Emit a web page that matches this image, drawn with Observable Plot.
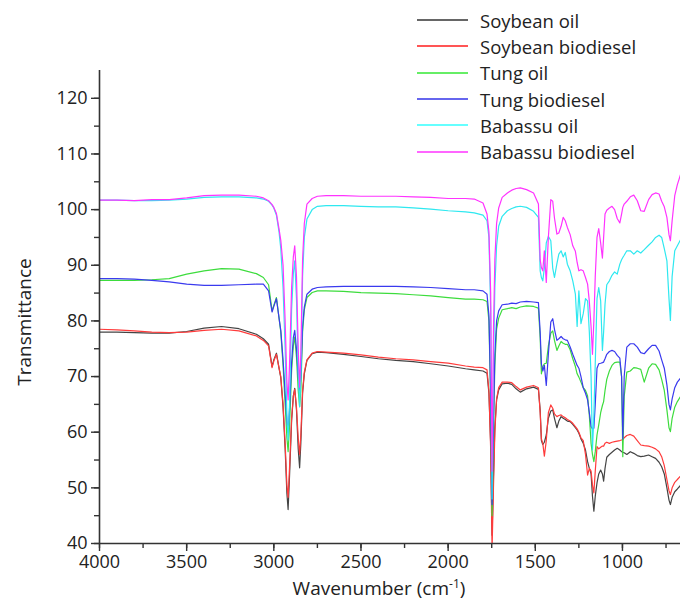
<!DOCTYPE html>
<html>
<head>
<meta charset="utf-8">
<script src="https://cdn.jsdelivr.net/npm/d3@7"></script>
<script src="https://cdn.jsdelivr.net/npm/@observablehq/plot@0.6"></script>
<style>
  html, body { margin: 0; padding: 0; background: #fff; }
  #wrap { position: relative; width: 680px; height: 608px; font-family: "Open Sans", sans-serif; color: #222; }
  #legend { position: absolute; left: 417px; top: 7px; font-size: 18.5px; }
  #legend .row { display: flex; align-items: center; height: 26.3px; }
  #legend .sw { width: 51px; height: 2px; margin-right: 12px; }
  .axlab { position: absolute; font-size: 19px; color: #222; white-space: nowrap; line-height: 24px; }
</style>
</head>
<body>
<div id="wrap">
  <div id="chart"></div>
  <div id="legend"></div>
  <div class="axlab" id="xlab" style="left:0; top:576px; width:758px; text-align:center;">Wavenumber (cm<sup style="font-size:12px; line-height:0;">-1</sup>)</div>
  <div class="axlab" id="ylab" style="left:24px; top:322px; transform: translate(-50%,-50%) rotate(-90deg);">Transmittance</div>
</div>
<script>
// Wavenumbers (cm-1)
const wavenumbers = [4000,3900,3800,3700,3600,3500,3400,3300,3200,3100,3060,3030,3010,3000,2985,2970,2960,2947,2935,2925,2918,2910,2898,2888,2880,2870,2860,2852,2845,2835,2825,2810,2780,2750,2700,2600,2500,2400,2300,2200,2100,2000,1900,1850,1800,1777,1766,1756,1748,1740,1732,1722,1710,1690,1660,1635,1610,1586,1550,1510,1482,1472,1465,1457,1448,1437,1425,1411,1400,1390,1376,1365,1352,1340,1328,1316,1300,1285,1270,1260,1250,1238,1225,1212,1200,1190,1180,1172,1164,1156,1146,1136,1125,1115,1108,1100,1090,1075,1060,1045,1030,1015,1005,998,990,975,955,935,915,895,875,850,830,810,790,775,760,745,733,725,715,700,685,665];

const soybeanOil = [78.0,78.0,77.9,77.8,77.8,78.1,78.7,79.0,78.6,77.6,76.8,75.8,71.8,73.0,74.2,71.5,69.8,64.5,57,49,46.1,52,62,66.5,67.9,64,57,53.6,58,67,70.5,72.9,74.1,74.4,74.3,74.0,73.6,73.2,72.9,72.7,72.3,71.9,71.4,71.2,71.0,70.6,67,58,41.5,52,61,65.8,67.6,68.7,68.8,68.6,67.8,67.2,67.8,68.1,67.7,64,58.5,57.8,58.2,59.5,62.5,63.8,64.0,62.5,60.8,62.0,62.8,62.5,62.3,62.0,61.9,61.4,60.8,60.4,59.8,58.8,58.0,56.8,54.7,53.5,52.5,48.5,45.8,48.5,50.9,52.5,53.2,52.5,51.2,53.5,55.5,56.0,56.4,56.8,57.1,56.8,56.5,56.4,56.3,56.0,56.5,56.2,55.8,55.6,55.7,55.9,55.6,55.3,54.6,53.8,52.5,50.0,47.8,47.0,48.3,49.3,49.8,50.5];

const soybeanBiodiesel = [78.5,78.4,78.2,78.0,77.9,78.0,78.3,78.5,78.2,77.3,76.5,75.5,71.6,72.8,74.0,71.5,70,65,58,50.5,48.3,53.5,62.5,66.5,67.7,64.5,59,56.0,59.5,67.5,70.8,73.0,74.2,74.5,74.4,74.2,73.9,73.5,73.2,73.0,72.7,72.4,71.9,71.7,71.6,71.2,67.5,57,39.0,50,60,66.0,68.0,69.0,69.0,68.9,68.2,67.6,68.1,68.4,68.0,63.5,58.8,58.0,55.7,58.5,63.5,64.9,64.3,63.3,62.8,63.0,63.1,62.8,62.6,62.3,62.0,61.6,61.0,60.6,60.0,59.0,58.5,56.0,52.3,53.5,53.0,50.5,49.1,53,57.4,57.0,57.3,57.5,57.5,58.0,58.2,58.0,58.2,58.3,58.4,58.5,58.6,58.7,59.0,59.4,59.6,59.3,58.5,57.7,57.6,57.5,57.3,57.0,56.5,55.6,54.0,51.5,49.5,48.8,50.0,51.0,51.5,52.2];

const tungOil = [87.3,87.3,87.3,87.4,87.6,88.4,89.0,89.4,89.3,88.5,87.8,86.5,81.8,82.8,84.2,80.5,78,72,65,59,56.5,61,71,75.5,77.1,73.5,67.5,64.6,67.5,78,82,84.2,85.1,85.4,85.4,85.3,85.1,85.0,84.9,84.7,84.5,84.2,83.9,83.9,83.8,83.5,80,66,45.0,60,72,78.5,80.5,82.0,82.2,82.4,82.2,82.5,82.7,82.6,82.3,77,70.5,71.8,72.3,72.4,75.5,77.8,78.2,76.5,74.7,75.5,76.3,76.0,75.8,75.8,74.8,73.2,71.8,70.5,69.9,69.0,68.0,67.5,66.5,63,58,56.0,54.7,56.5,59.5,61.3,63.5,64.8,65.5,67.5,69.5,71.0,72.0,72.5,72.6,72.6,70,55.6,66.4,70.8,71.0,71.6,71.5,71.3,69.0,71.5,72.3,72.2,71.2,69.5,67.5,64,60.8,60.1,62.5,64.5,65.5,66.5];

const tungBiodiesel = [87.6,87.6,87.5,87.3,87.0,86.6,86.4,86.4,86.5,86.6,86.6,85.4,81.6,82.6,84.0,80.5,78.3,73,67,62,60.0,64,72.5,77,78.3,75,70,67.0,70,79,82.5,84.8,85.7,86.0,86.1,86.2,86.2,86.2,86.2,86.1,86.0,85.8,85.6,85.6,85.4,84.8,81,67,47.0,62,74,80,81.8,82.9,83.0,83.2,83.1,83.4,83.5,83.4,83.3,78,72.3,71.0,72,68.4,74,79.8,80.4,78.5,76.5,76.8,77.2,76.8,76.6,76.5,75.3,74.0,72.8,72.0,71.5,70.0,68.0,67.0,65.8,63.5,61.0,60.6,60.7,65,71.5,72.3,72.4,72.5,72.6,73.2,74.0,74.5,74.7,74.5,73.8,73.3,70,58.8,70,75.3,75.9,75.9,75.3,74.3,74.1,75.0,75.6,75.6,74.6,73.0,71.5,68.5,65,64.0,66,68.0,69.0,69.8];

const babassuOil = [101.7,101.7,101.6,101.6,101.7,101.9,102.2,102.3,102.3,102.1,101.9,101.5,100.8,100.3,99.0,96.0,93.0,86,75,63,58.6,65,82,88.5,90.8,84,71,64.6,70,88,95,98.3,100.0,100.6,100.7,100.7,100.6,100.5,100.5,100.3,100.1,99.8,99.6,99.4,99.0,98.0,95,82,48.0,72,86,93.5,97.0,98.8,99.8,100.2,100.5,100.6,100.4,99.7,98.6,89,87.8,87.2,89.5,94.0,95.2,94.4,89.5,87.8,90.3,92.0,92.6,91.5,92.3,90.2,89.0,87.2,84.8,79.0,85.4,79.5,81.3,84.0,83.6,78.0,70.0,56.8,63.0,72.4,84.0,86.0,83.6,74.7,78.0,83.0,86.5,87.2,88.2,88.8,88.4,90.2,91.0,91.4,91.8,92.6,92.6,92.0,92.6,92.2,92.8,93.6,94.2,95.0,95.4,95.0,93.0,90.8,84,80.1,88,92.6,93.5,94.7];

const babassuBiodiesel = [101.7,101.7,101.6,101.8,101.8,102.1,102.5,102.6,102.6,102.4,102.1,101.6,100.9,100.4,99.3,96.5,94.5,90,80,69,65.8,72,86,91.5,93.5,88,75,68.1,74,91,97.5,101.0,102.0,102.4,102.5,102.5,102.4,102.4,102.4,102.3,102.2,102.0,102.0,101.9,101.2,99.2,96,85,53.0,78,91,97.5,100.3,102.2,103.0,103.5,103.8,103.9,103.6,103.0,101.0,91,89.6,89.0,92.6,86.9,95,101.8,101.5,98.5,95.6,95.8,97.0,98.6,98.0,96.8,95.5,93.5,92.5,90.5,89.0,89.2,89.0,87.8,86.6,83.5,79,74.0,80,88,95.0,96.6,94,91.3,95,99.2,99.9,100.3,100.6,100.0,98.4,97.6,99.2,100.4,101.0,101.5,102.3,102.6,101.6,99.8,99.7,101.8,102.7,103.0,102.8,101.5,100.5,98.6,95.5,94.4,98.0,102.5,104.5,106.5];

const seriesNames = ["Soybean oil","Soybean biodiesel","Tung oil","Tung biodiesel","Babassu oil","Babassu biodiesel"];
const seriesColors = ["#444444","#ff3b3b","#3ddc3d","#3a3aee","#2ee8f0","#ff33ff"];
const legendColors = ["#666666","#ff5555","#66ee66","#6666ee","#66ffff","#ff66ff"];
const xTickLabels = [4000,3500,3000,2500,2000,1500,1000];
const xMinorTicks = [4000,3750,3500,3250,3000,2750,2500,2250,2000,1750,1500,1250,1000,750];
const yTickLabels = [40,50,60,70,80,90,100,110,120];
const yMinorTicks = [40,45,50,55,60,65,70,75,80,85,90,95,100,105,110,115,120];

const allSeries = [soybeanOil, soybeanBiodiesel, tungOil, tungBiodiesel, babassuOil, babassuBiodiesel];
const rows = [];
allSeries.forEach((vals, si) => {
  vals.forEach((v, i) => rows.push({wn: wavenumbers[i], t: v, s: seriesNames[si]}));
});

const font = "'Open Sans', sans-serif";
const chart = Plot.plot({
  width: 680,
  height: 608,
  marginLeft: 99,
  marginRight: 0,
  marginTop: 70,
  marginBottom: 65,
  style: {fontFamily: font, fontSize: "18px", color: "#222", background: "#fff"},
  x: {domain: [4000, 667]},
  y: {domain: [40, 125]},
  color: {domain: seriesNames, range: seriesColors},
  marks: [
    Plot.line(rows, {x: "wn", y: "t", z: "s", stroke: "s", strokeWidth: 1.2, clip: true}),
    Plot.axisX({ticks: xMinorTicks, tickSize: 5, text: null, label: null, stroke: "#333", strokeWidth: 1.4}),
    Plot.axisX({ticks: xTickLabels, tickSize: 8, tickPadding: 4, tickFormat: d => String(d), label: null, stroke: "#333", strokeWidth: 1.4, fontSize: 18}),
    Plot.axisY({ticks: yMinorTicks, tickSize: 5, text: null, label: null, stroke: "#333", strokeWidth: 1.4}),
    Plot.axisY({ticks: yTickLabels, tickSize: 8, tickPadding: 4, tickFormat: d => String(d), label: null, stroke: "#333", strokeWidth: 1.4, fontSize: 18}),
    Plot.ruleY([40], {stroke: "#333", strokeWidth: 1.6}),
    Plot.ruleX([4000], {stroke: "#333", strokeWidth: 1.6})
  ]
});
document.getElementById("chart").appendChild(chart);

const legend = document.getElementById("legend");
seriesNames.forEach((n, i) => {
  const row = document.createElement("div");
  row.className = "row";
  const sw = document.createElement("div");
  sw.className = "sw";
  sw.style.background = legendColors[i];
  const tx = document.createElement("span");
  tx.textContent = n;
  row.appendChild(sw);
  row.appendChild(tx);
  legend.appendChild(row);
});
</script>
</body>
</html>
